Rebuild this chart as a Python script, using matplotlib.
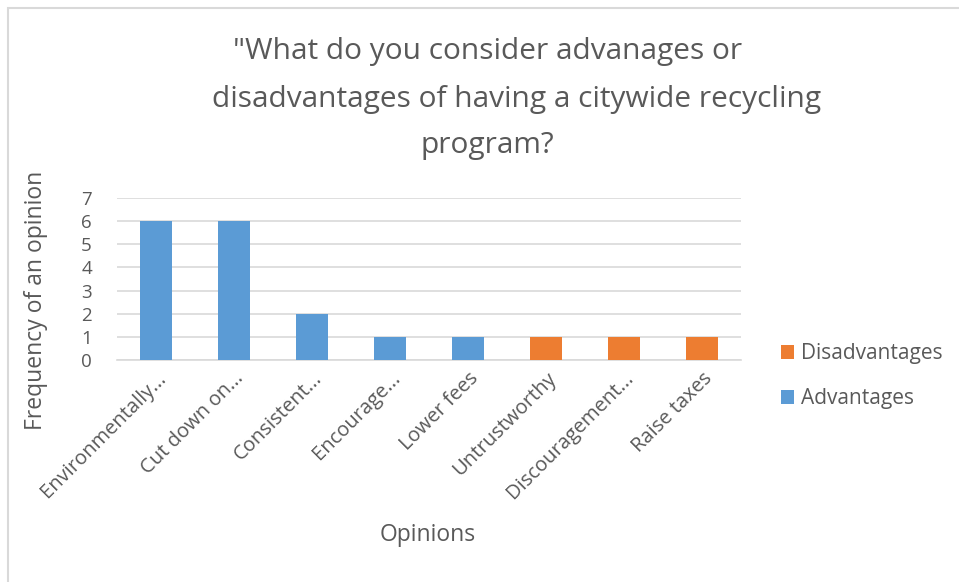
import matplotlib
matplotlib.use("Agg")
import matplotlib.pyplot as plt
from matplotlib.patches import Rectangle

categories = ["Environmentally...", "Cut down on...", "Consistent...", "Encourage...",
              "Lower fees", "Untrustworthy", "Discouragement...", "Raise taxes"]
advantages = [6, 6, 2, 1, 1, 0, 0, 0]
disadvantages = [0, 0, 0, 0, 0, 1, 1, 1]
yticks = [0, 1, 2, 3, 4, 5, 6, 7]

title_lines = ['"What do you consider advanages or',
               'disadvantages of having a citywide recycling',
               'program?']

BLUE = "#5B9BD5"
ORANGE = "#ED7D31"
TEXT = "#595959"
GRID = "#D9D9D9"

plt.rcParams["font.family"] = ["Open Sans", "DejaVu Sans"]

W, H = 959, 582
fig = plt.figure(figsize=(W / 100, H / 100), dpi=100)

# chart frame
fig.patches.append(Rectangle((8 / W, -0.05), 1.2, 1 - 8 / H + 0.05,
                             transform=fig.transFigure, fill=False,
                             edgecolor="#D9D9D9", linewidth=1.5))

ax = fig.add_axes([117 / W, 1 - 360 / H, 624 / W, 162 / H])
x = list(range(len(categories)))
ax.bar(x, advantages, width=0.41, color=BLUE, label="Advantages", zorder=3)
ax.bar(x, disadvantages, width=0.41, bottom=advantages, color=ORANGE,
       label="Disadvantages", zorder=3)

ax.set_xlim(-0.5, len(categories) - 0.5)
ax.set_ylim(0, 7)
ax.set_yticks(yticks)
ax.yaxis.grid(True, color=GRID, linewidth=1.2, zorder=0)
ax.set_axisbelow(True)
for s in ["top", "right", "left"]:
    ax.spines[s].set_visible(False)
ax.spines["bottom"].set_color(GRID)
ax.spines["bottom"].set_linewidth(1.2)
ax.tick_params(axis="both", length=0, colors=TEXT)
ax.tick_params(axis="y", pad=18, labelsize=13.5)
ax.set_xticks(x)
ax.set_xticklabels(categories, rotation=45, ha="right", va="top",
                   rotation_mode="anchor", fontsize=14.5, color=TEXT)
ax.tick_params(axis="x", pad=6)

fig.text(36 / W, 1 - 300 / H, "Frequency of an opinion", rotation=90,
         ha="center", va="center", fontsize=16.5, color=TEXT)
fig.text(428 / W, 1 - 535 / H, "Opinions", ha="center", va="center",
         fontsize=16.5, color=TEXT)

centers = [488, 517, 487]
ys = [52, 99, 145]
for line, cx, cy in zip(title_lines, centers, ys):
    fig.text(cx / W, 1 - cy / H, line, ha="center", va="center",
             fontsize=21.5, color=TEXT)

handles, labels = ax.get_legend_handles_labels()
fig.legend(handles[::-1], labels[::-1], loc="center left",
           bbox_to_anchor=(762 / W, 1 - 376 / H), frameon=False,
           fontsize=15, labelcolor=TEXT, handlelength=0.65, handleheight=0.65,
           handletextpad=0.3, labelspacing=1.15)

fig.savefig("out.png", dpi=100)
